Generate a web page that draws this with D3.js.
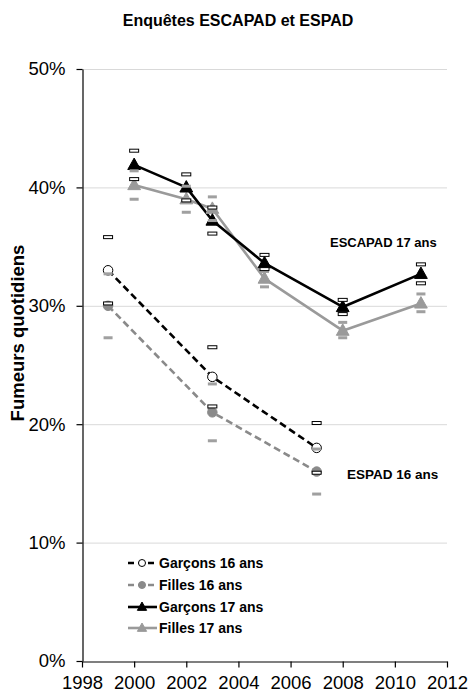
<!DOCTYPE html>
<html>
<head>
<meta charset="utf-8">
<script src="https://cdn.jsdelivr.net/npm/d3@7"></script>
<style>
  html, body { margin: 0; padding: 0; background: #fff; }
  svg { display: block; font-family: "Liberation Sans", Arial, sans-serif; }
</style>
</head>
<body>
<svg id="chart" width="469" height="695"></svg>
<script>
// ESPAD surveys (16-year-olds)
const years16 = [1999, 2003, 2007];
const garcons16 = [33.0, 24.0, 18.0];
const garcons16Low = [30.2, 21.5, 15.9];
const garcons16High = [35.8, 26.5, 20.1];
const filles16 = [30.0, 21.0, 16.0];
const filles16Low = [27.3, 18.6, 14.1];
const filles16High = [32.7, 23.4, 17.9];

// ESCAPAD surveys (17-year-olds)
const years17 = [2000, 2002, 2003, 2005, 2008, 2011];
const garcons17 = [41.9, 40.0, 37.2, 33.6, 29.9, 32.7];
const garcons17Low = [40.7, 38.9, 36.1, 33.1, 29.3, 31.9];
const garcons17High = [43.1, 41.1, 38.3, 34.3, 30.5, 33.5];
const filles17 = [40.2, 39.0, 38.2, 32.3, 27.9, 30.2];
const filles17Low = [39.0, 37.9, 37.2, 31.6, 27.3, 29.5];
const filles17High = [41.4, 40.1, 39.2, 32.9, 28.6, 31.0];

const xTicks = [1998, 2000, 2002, 2004, 2006, 2008, 2010, 2012];
const yTicks = [0, 10, 20, 30, 40, 50];

const titleText = "Enquêtes ESCAPAD et ESPAD";
const yTitle = "Fumeurs quotidiens";
const legendLabels = ["Garçons 16 ans", "Filles 16 ans", "Garçons 17 ans", "Filles 17 ans"];

const svg = d3.select("#chart");
const margin = {left: 82, right: 22, top: 69, bottom: 34};
const W = 469, H = 695;

const x = d3.scaleLinear().domain([1998, 2012]).range([margin.left, W - margin.right]);
const y = d3.scaleLinear().domain([0, 50]).range([H - margin.bottom, margin.top]);

const BLACK = "#000";
const GREY_LINE = "#9a9a9a";
const GREY_DASH = "#8a8a8a";
const GREY_MARK = "#a0a0a0";

// Title
svg.append("text")
  .attr("x", 238).attr("y", 26)
  .attr("text-anchor", "middle")
  .attr("font-weight", "bold").attr("font-size", 16)
  .text(titleText);

// Horizontal gridlines
svg.append("g").selectAll("line")
  .data(yTicks.filter(d => d > 0))
  .join("line")
  .attr("x1", x(1998)).attr("x2", x(2012))
  .attr("y1", d => y(d) + 0.5).attr("y2", d => y(d) + 0.5)
  .attr("stroke", "#d9d9d9").attr("stroke-width", 1);

// Axes
const yAxis = d3.axisLeft(y)
  .tickValues(yTicks)
  .tickFormat(d => d + "%")
  .tickSize(6).tickSizeOuter(0).tickPadding(11);
const gy = svg.append("g")
  .attr("transform", `translate(${margin.left + 0.5},0)`)
  .call(yAxis);
gy.selectAll("text").attr("font-size", 18.5).attr("fill", "#000").attr("font-family", "Liberation Sans, Arial, sans-serif");

const xAxis = d3.axisBottom(x)
  .tickValues(xTicks)
  .tickFormat(d3.format("d"))
  .tickSize(6).tickSizeOuter(0).tickPadding(8);
const gx = svg.append("g")
  .attr("transform", `translate(0,${H - margin.bottom + 0.5})`)
  .call(xAxis);
gx.selectAll("text").attr("font-size", 18.5).attr("fill", "#000").attr("font-family", "Liberation Sans, Arial, sans-serif");
svg.selectAll(".domain, .tick line").attr("stroke", "#000").attr("stroke-width", 1.2);

// Y axis title
svg.append("text")
  .attr("transform", `translate(24,${333}) rotate(-90)`)
  .attr("text-anchor", "middle")
  .attr("font-weight", "bold").attr("font-size", 18.5)
  .text(yTitle);

const line = d3.line().x(d => x(d[0])).y(d => y(d[1]));
const pairs = (xs, ys) => xs.map((v, i) => [v, ys[i]]);

const series = [
  {name: legendLabels[0], xs: years16, vals: garcons16, lo: garcons16Low, hi: garcons16High,
   color: BLACK, dash: "7,4", marker: "circle", fill: "#fff", errFill: "#fff", errStroke: "#000"},
  {name: legendLabels[1], xs: years16, vals: filles16, lo: filles16Low, hi: filles16High,
   color: GREY_DASH, dash: "7,4", marker: "circle", fill: GREY_DASH, errFill: GREY_MARK, errStroke: "none"},
  {name: legendLabels[2], xs: years17, vals: garcons17, lo: garcons17Low, hi: garcons17High,
   color: BLACK, dash: null, marker: "triangle", fill: BLACK, errFill: "#fff", errStroke: "#000"},
  {name: legendLabels[3], xs: years17, vals: filles17, lo: filles17Low, hi: filles17High,
   color: GREY_LINE, dash: null, marker: "triangle", fill: GREY_LINE, errFill: GREY_MARK, errStroke: "none"}
];

const triPath = s => `M0,${-s * 0.62}L${s * 0.58},${s * 0.42}L${-s * 0.58},${s * 0.42}Z`;

function drawMarker(g, s, cx, cy, size) {
  if (s.marker === "circle") {
    g.append("circle").attr("cx", cx).attr("cy", cy).attr("r", size / 2)
      .attr("fill", s.fill)
      .attr("stroke", s.fill === "#fff" ? "#000" : s.fill).attr("stroke-width", 1);
  } else {
    g.append("path").attr("transform", `translate(${cx},${cy})`)
      .attr("d", triPath(size)).attr("fill", s.fill).attr("stroke", s.fill).attr("stroke-width", 1);
  }
}

// Draw order: grey series under black series
const order = [1, 0, 3, 2];
const gLines = svg.append("g");
order.forEach(i => {
  const s = series[i];
  gLines.append("path")
    .datum(pairs(s.xs, s.vals))
    .attr("d", line)
    .attr("fill", "none")
    .attr("stroke", s.color)
    .attr("stroke-width", 2.6)
    .attr("stroke-dasharray", s.dash)
    .attr("stroke-linejoin", "round");
});

const gMarks = svg.append("g");
order.forEach(i => {
  const s = series[i];
  s.xs.forEach((yr, k) => drawMarker(gMarks, s, x(yr), y(s.vals[k]), s.marker === "circle" ? 9.5 : 11));
});

// Confidence bounds drawn as small dash markers
const gErr = svg.append("g");
order.forEach(i => {
  const s = series[i];
  const bounds = [];
  s.xs.forEach((yr, k) => { bounds.push([yr, s.lo[k]]); bounds.push([yr, s.hi[k]]); });
  gErr.selectAll(null).data(bounds).join("rect")
    .attr("x", d => x(d[0]) - 4.5)
    .attr("y", d => y(d[1]) - 1.5)
    .attr("width", 9).attr("height", 3)
    .attr("fill", s.errFill)
    .attr("stroke", s.errStroke)
    .attr("stroke-width", s.errStroke === "none" ? 0 : 1);
});

// Survey annotations
svg.append("text").attr("x", 330).attr("y", 247)
  .attr("font-weight", "bold").attr("font-size", 13).text("ESCAPAD 17 ans");
svg.append("text").attr("x", 347).attr("y", 479)
  .attr("font-weight", "bold").attr("font-size", 13.5).text("ESPAD 16 ans");

// Legend
const legendY = [563, 585, 607, 628];
const gLeg = svg.append("g");
series.forEach((s, i) => {
  const ly = legendY[i];
  gLeg.append("line")
    .attr("x1", 128).attr("x2", 157).attr("y1", ly).attr("y2", ly)
    .attr("stroke", s.color).attr("stroke-width", 2.6)
    .attr("stroke-dasharray", s.dash ? "6,4" : null);
  drawMarker(gLeg, s, 142, ly, s.marker === "circle" ? 7 : 8);
  gLeg.append("text").attr("x", 159).attr("y", ly + 5)
    .attr("font-weight", "bold").attr("font-size", 14).text(s.name);
});
</script>
</body>
</html>
